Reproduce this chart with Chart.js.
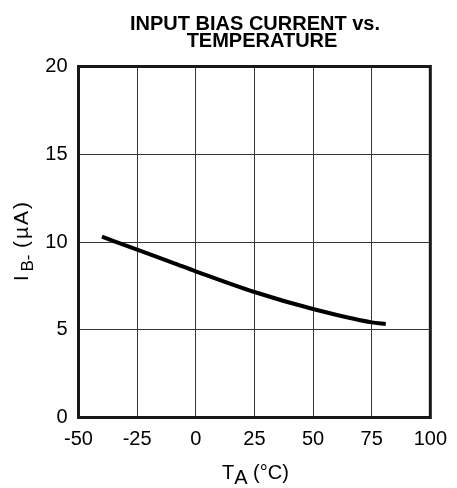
<!DOCTYPE html>
<html><head><meta charset="utf-8">
<script src="https://cdn.jsdelivr.net/npm/chart.js@4"></script>
<style>html,body{margin:0;padding:0;background:#fff;overflow:hidden}</style>
</head><body>
<canvas id="c" width="457" height="488" style="display:block;width:457px;height:488px"></canvas>
<script>
const temperatures = [-40, -25, -10, 0, 25, 50, 75, 81];
const biasCurrent = [10.30, 9.56, 8.83, 8.33, 7.15, 6.18, 5.42, 5.33];
const xTicks = [-50, -25, 0, 25, 50, 75, 100];
const yTicks = [0, 5, 10, 15, 20];
const titleLines = ["INPUT BIAS CURRENT vs.", "TEMPERATURE"];
const xTitle = ["T", "A", " (°C)"];
const yTitle = ["I", "B-", "(µA)"];

const FONT = 'Arial, "Liberation Sans", sans-serif';

const textPlugin = {
  id: 'texts',
  afterDatasetsDraw(chart) {
    const ctx = chart.ctx;
    const a = chart.chartArea;
    ctx.save();
    ctx.strokeStyle = '#1a1716';
    ctx.lineWidth = 3;
    ctx.strokeRect(a.left, a.top, a.right - a.left, a.bottom - a.top);
    ctx.restore();
  },
  afterDraw(chart) {
    const ctx = chart.ctx;
    ctx.save();
    ctx.fillStyle = '#000';
    ctx.textBaseline = 'alphabetic';
    // title
    ctx.font = 'bold 20px ' + FONT;
    ctx.textAlign = 'center';
    ctx.fillText(titleLines[0], 255, 29.5);
    ctx.fillText(titleLines[1], 262, 46.5);
    // x title
    ctx.textAlign = 'left';
    ctx.font = '20px ' + FONT;
    let x = 222;
    ctx.fillText(xTitle[0], x, 479);
    x += ctx.measureText(xTitle[0]).width;
    ctx.fillText(xTitle[1], x, 483.5);
    x += ctx.measureText(xTitle[1]).width;
    ctx.fillText(xTitle[2], x, 479);
    // y title
    ctx.translate(28, 280);
    ctx.rotate(-Math.PI / 2);
    ctx.font = '20px ' + FONT;
    ctx.fillText(yTitle[0], -1, 0);
    ctx.font = '17px ' + FONT;
    ctx.fillText(yTitle[1], 8.5, 5);
    ctx.font = '21px ' + FONT;
    ctx.letterSpacing = '2px';
    ctx.fillText(yTitle[2], 32, 0);
    ctx.restore();
  }
};

new Chart(document.getElementById('c'), {
  type: 'line',
  data: {
    datasets: [{
      data: temperatures.map((t, i) => ({ x: t, y: biasCurrent[i] })),
      borderColor: '#000',
      borderWidth: 4,
      pointRadius: 0,
      cubicInterpolationMode: 'monotone',
      fill: false
    }]
  },
  options: {
    responsive: false,
    animation: false,
    devicePixelRatio: 1,
    layout: { padding: { top: 66.5, right: 25.5, left: 0, bottom: 0 } },
    plugins: { legend: { display: false }, title: { display: false }, tooltip: { enabled: false } },
    scales: {
      x: {
        type: 'linear',
        min: xTicks[0],
        max: xTicks[xTicks.length - 1],
        afterBuildTicks: s => { s.ticks = xTicks.map(v => ({ value: v })); },
        afterFit: s => { s.height = 70.5; },
        border: { display: false },
        grid: { color: '#3a3533', lineWidth: 1, drawTicks: false },
        ticks: { color: '#000', font: { family: FONT, size: 20 }, padding: 10, maxRotation: 0 }
      },
      y: {
        min: yTicks[0],
        max: yTicks[yTicks.length - 1],
        afterBuildTicks: s => { s.ticks = yTicks.map(v => ({ value: v })); },
        afterFit: s => { s.width = 78.5; },
        border: { display: false },
        grid: { color: '#3a3533', lineWidth: 1, drawTicks: false },
        ticks: { color: '#000', font: { family: FONT, size: 20 }, padding: 11 }
      }
    }
  },
  plugins: [textPlugin]
});
</script>
</body></html>
